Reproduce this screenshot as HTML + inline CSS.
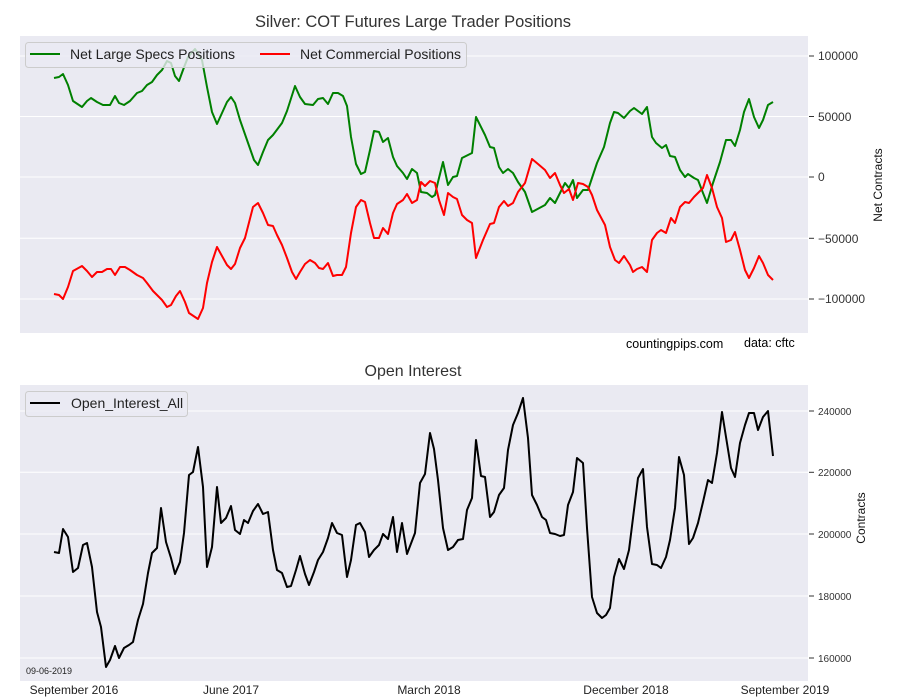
<!DOCTYPE html>
<html><head><meta charset="utf-8"><style>
html,body{margin:0;padding:0;background:#fff}
svg{display:block;font-family:"Liberation Sans","DejaVu Sans",sans-serif}
</style></head><body>
<svg width="900" height="700" viewBox="0 0 900 700" xmlns="http://www.w3.org/2000/svg">
<rect width="900" height="700" fill="#fff"/>
<!-- top panel -->
<rect x="20" y="36" width="788" height="297" fill="#eaeaf2"/>
<g stroke="#fff" stroke-width="1">
<line x1="20" x2="808" y1="56" y2="56"/><line x1="20" x2="808" y1="116.5" y2="116.5"/>
<line x1="20" x2="808" y1="177" y2="177"/><line x1="20" x2="808" y1="238.3" y2="238.3"/>
<line x1="20" x2="808" y1="299" y2="299"/>
</g>
<g stroke="#333" stroke-width="1">
<line x1="809" x2="814" y1="56" y2="56"/><line x1="809" x2="814" y1="116.5" y2="116.5"/>
<line x1="809" x2="814" y1="177" y2="177"/><line x1="809" x2="814" y1="238.3" y2="238.3"/>
<line x1="809" x2="814" y1="299" y2="299"/>
</g>
<g font-size="12" fill="#333">
<text x="818" y="60">100000</text><text x="818" y="121">50000</text>
<text x="818" y="181">0</text><text x="818" y="243">−50000</text><text x="818" y="303">−100000</text>
</g>
<text x="882" y="185" font-size="12" fill="#111" text-anchor="middle" transform="rotate(-90 882 185)">Net Contracts</text>
<text x="413" y="27" font-size="16.5" fill="#333" text-anchor="middle">Silver: COT Futures Large Trader Positions</text>
<polyline fill="none" stroke="#008000" stroke-width="2" stroke-linejoin="round" points="54,78 59,77 63,74 68,85 73,101 82,107 87,101 91,98 97,102 103,105 110,105 115,96 119,103 124,105 130,101 137,93 142,91 147,85 152,82 157,75 162,70 167,61 171,63 175,76 179,81 183,70 188,57 195,49 202,60 207,87 212,112 217,124 222,113 227,102 231,97 235,103 240,120 247,140 254,160 258,165 263,152 268,140 273,135 282,123 287,111 295,86 300,97 305,104 313,105 318,99 323,98 328,104 333,93 338,93 343,96 347,106 351,137 356,164 361,174 365,172 370,150 374,131 379,132 383,142 388,138 393,157 397,166 403,173 407,179 412,169 417,173 421,192 427,193 432,197 435,195 438,182 443,162 448,185 453,177 457,176 462,158 472,153 476,117 485,135 490,147 494,148 499,167 503,173 508,169 513,173 518,182 525,192 532,212 545,205 550,198 555,203 565,183 569,188 573,180 577,198 583,190 588,190 597,163 604,147 610,123 614,112 618,113 624,118 630,111 634,108 642,114 647,107 652,137 656,143 662,148 666,145 670,156 675,157 680,170 685,177 688,174 694,178 698,180 703,193 707,203 713,183 720,162 726,140 731,140 735,146 740,130 744,112 749,99 754,117 759,128 763,120 768,105 773,102"/>
<polyline fill="none" stroke="#ff0000" stroke-width="2" stroke-linejoin="round" points="54,294 59,295 63,299 68,287 73,271 82,266 87,271 92,277 97,272 102,272 107,269 111,269 115,275 120,267 125,267 130,270 137,275 143,278 147,283 153,291 157,295 162,300 167,307 171,305 176,296 180,291 185,302 189,313 198,319 203,308 207,283 212,262 217,247 222,256 227,265 231,269 235,264 240,248 245,238 253,207 258,203 263,213 268,225 273,226 277,235 282,245 287,258 292,272 296,279 300,272 305,264 310,260 315,263 319,268 323,269 328,263 333,276 337,275 342,275 346,267 351,233 356,207 361,200 365,202 370,223 374,238 379,238 383,228 388,234 393,213 397,204 403,200 407,194 412,203 417,200 421,182 425,186 430,181 435,183 439,200 444,215 448,193 453,197 457,199 462,215 467,220 472,223 476,258 483,240 490,224 494,223 499,207 504,201 508,206 513,203 518,192 525,183 532,159 538,164 545,170 550,178 555,173 560,185 564,193 569,189 573,200 578,183 583,184 588,187 592,195 597,210 605,225 610,247 615,260 619,263 624,256 630,265 633,272 637,269 642,267 647,272 652,240 657,233 661,230 666,233 671,218 675,223 680,207 685,202 689,203 694,197 698,193 703,188 707,175 712,188 717,207 722,218 726,242 731,240 735,232 740,250 745,270 749,278 754,268 759,256 763,263 768,275 773,280"/>
<rect x="25.5" y="42.5" width="441" height="25" rx="3" fill="#eaeaf2" fill-opacity="0.8" stroke="#ccc"/>
<line x1="30" x2="60" y1="54" y2="54" stroke="#008000" stroke-width="2"/>
<text x="70" y="59" font-size="14" fill="#222">Net Large Specs Positions</text>
<line x1="260" x2="290" y1="54" y2="54" stroke="#ff0000" stroke-width="2"/>
<text x="300" y="59" font-size="14" fill="#222">Net Commercial Positions</text>
<text x="626" y="348" font-size="12.5" fill="#000">countingpips.com</text>
<text x="744" y="347" font-size="12.5" fill="#000">data: cftc</text>

<!-- bottom panel -->
<rect x="20" y="385" width="788" height="296" fill="#eaeaf2"/>
<g stroke="#fff" stroke-width="1">
<line x1="20" x2="808" y1="411" y2="411"/><line x1="20" x2="808" y1="472.3" y2="472.3"/>
<line x1="20" x2="808" y1="534" y2="534"/><line x1="20" x2="808" y1="596" y2="596"/>
<line x1="20" x2="808" y1="658" y2="658"/>
</g>
<g stroke="#333" stroke-width="1">
<line x1="809" x2="814" y1="411" y2="411"/><line x1="809" x2="814" y1="472.3" y2="472.3"/>
<line x1="809" x2="814" y1="534" y2="534"/><line x1="809" x2="814" y1="596" y2="596"/>
<line x1="809" x2="814" y1="658" y2="658"/>
</g>
<g font-size="10" fill="#333">
<text x="818" y="415">240000</text><text x="818" y="476">220000</text>
<text x="818" y="538">200000</text><text x="818" y="600">180000</text><text x="818" y="662">160000</text>
</g>
<text x="865" y="518" font-size="12" fill="#111" text-anchor="middle" transform="rotate(-90 865 518)">Contracts</text>
<text x="413" y="376" font-size="16" fill="#333" text-anchor="middle">Open Interest</text>
<polyline fill="none" stroke="#000" stroke-width="2" stroke-linejoin="round" points="54,552 59,553 63,529 68,537 73,572 78,568 83,545 87,543 92,567 97,612 101,627 106,667 110,660 115,646 119,658 124,648 129,645 133,642 138,620 143,604 148,573 152,553 157,548 161,508 166,542 171,558 175,574 180,562 184,533 189,475 193,472 198,447 203,487 207,567 212,547 217,487 221,523 226,518 231,506 235,530 240,534 244,520 248,523 253,511 258,504 263,514 268,512 273,550 277,570 282,573 287,587 291,586 296,570 300,556 305,574 309,585 314,572 318,560 323,552 328,538 332,523 337,533 342,535 347,577 351,560 356,525 360,523 365,532 369,557 374,550 379,545 383,534 388,539 393,517 397,552 402,523 407,554 415,533 420,483 425,474 430,433 434,449 438,480 443,528 448,550 453,547 458,540 463,539 467,510 472,498 476,440 481,476 485,477 490,517 494,512 499,495 504,488 508,450 513,425 518,413 523,398 528,438 532,495 537,505 542,517 546,520 550,533 555,534 560,536 564,535 568,505 573,492 577,458 583,463 587,528 592,597 597,613 602,618 606,615 610,608 614,577 619,559 624,569 629,550 633,518 638,478 643,469 647,527 652,564 657,565 661,568 666,557 670,540 675,508 679,457 684,475 689,544 693,538 698,523 703,502 708,480 712,483 717,453 722,412 726,437 731,468 735,477 740,443 745,425 749,413 754,413 758,430 763,417 768,411 773,456"/>
<rect x="25.5" y="391.5" width="162" height="25" rx="3" fill="#eaeaf2" fill-opacity="0.8" stroke="#ccc"/>
<line x1="30" x2="60" y1="403" y2="403" stroke="#000" stroke-width="2"/>
<text x="71" y="408" font-size="14" fill="#222">Open_Interest_All</text>
<text x="26" y="674" font-size="9" fill="#222">09-06-2019</text>
<g font-size="12" fill="#222" text-anchor="middle">
<text x="74" y="694">September 2016</text><text x="231" y="694">June 2017</text>
<text x="429" y="694">March 2018</text><text x="626" y="694">December 2018</text>
<text x="785" y="694">September 2019</text>
</g>
</svg>
</body></html>
